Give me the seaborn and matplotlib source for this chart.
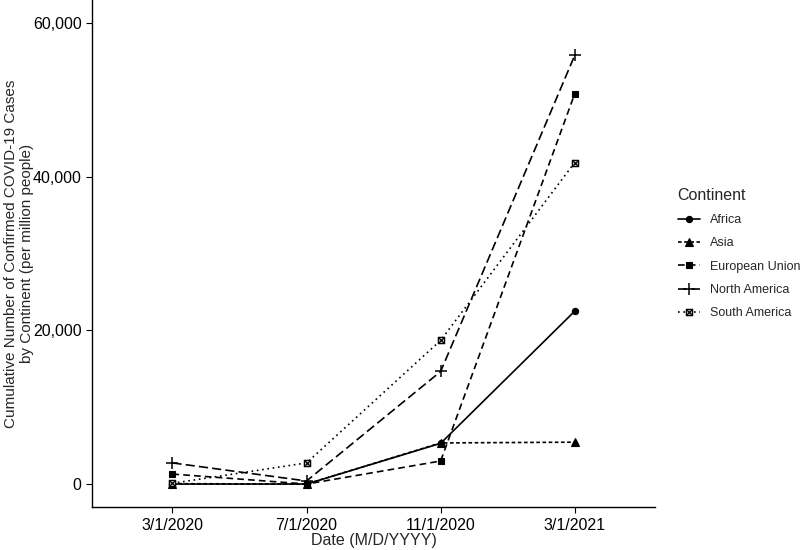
import matplotlib
matplotlib.use("Agg")
import matplotlib.pyplot as plt
import seaborn as sns
import pandas as pd
from matplotlib.path import Path
from matplotlib.lines import Line2D
from matplotlib.ticker import FuncFormatter

dates = ["3/1/2020", "7/1/2020", "11/1/2020", "3/1/2021"]
continents = ["Africa", "Asia", "European Union", "North America", "South America"]
africa = [0, 0, 5300, 22500]
asia = [50, 0, 5350, 5450]
eu = [1300, 0, 3000, 50800]
north_america = [2750, 400, 14650, 55800]
south_america = [100, 2750, 18700, 41850]

series = [africa, asia, eu, north_america, south_america]
rows = []
for c, vals in zip(continents, series):
    for i, (d, v) in enumerate(zip(dates, vals)):
        rows.append({"Continent": c, "pos": i, "Date": d, "value": v})
df = pd.DataFrame(rows)

sns.set_theme(style="ticks")
plt.rcParams["font.family"] = ["Liberation Sans", "DejaVu Sans"]

sq_x = Path(
    [(-1, -1), (1, -1), (1, 1), (-1, 1), (-1, -1), (-1, -1), (1, 1), (-1, 1), (1, -1)],
    [Path.MOVETO, Path.LINETO, Path.LINETO, Path.LINETO, Path.CLOSEPOLY,
     Path.MOVETO, Path.LINETO, Path.MOVETO, Path.LINETO],
)

styles = {
    "Africa": dict(marker="o", ls="-", ms=4.5, mfc="black", mew=0.8),
    "Asia": dict(marker="^", ls=(0, (2.2, 1.5)), ms=5.5, mfc="black", mew=0.8),
    "European Union": dict(marker="s", ls=(0, (4, 2.5)), ms=5, mfc="black", mew=0.8),
    "North America": dict(marker="+", ls=(0, (5.5, 2.5)), ms=8.5, mfc="black", mew=1.1),
    "South America": dict(marker=sq_x, ls=(0, (1, 2.2)), ms=4.5, mfc="#bbbbbb", mew=0.9),
}

fig = plt.figure(figsize=(8, 5.5), dpi=100)
ax = fig.add_axes([0.115, 0.078, 0.704, 0.922])

handles = []
for c in continents:
    st = styles[c]
    sub = df[df["Continent"] == c]
    sns.lineplot(data=sub, x="pos", y="value", color="black", linewidth=1.2,
                 marker=st["marker"], linestyle=st["ls"], markersize=st["ms"],
                 markerfacecolor=st["mfc"], markeredgecolor="black",
                 markeredgewidth=st["mew"], ax=ax, legend=False)
    handles.append(Line2D([], [], color="black", linewidth=1.2, marker=st["marker"],
                          linestyle=st["ls"], markersize=st["ms"],
                          markerfacecolor=st["mfc"], markeredgecolor="black",
                          markeredgewidth=st["mew"], label=c))

ax.set_xlim(-0.6, 3.6)
ax.set_ylim(-3000, 63000)
ax.set_xticks(range(len(dates)))
ax.set_xticklabels(dates)
ax.set_yticks([0, 20000, 40000, 60000])
ax.yaxis.set_major_formatter(FuncFormatter(lambda v, p: f"{int(v):,}"))
ax.set_xlabel("Date (M/D/YYYY)", fontsize=11.5, labelpad=0)
ax.set_ylabel("Cumulative Number of Confirmed COVID-19 Cases\nby Continent (per million people)",
              fontsize=11)
ax.yaxis.set_label_coords(-0.103, 0.5)
ax.tick_params(axis="both", labelsize=11.5, colors="black", length=4, width=0.8, direction="out")
for s in ["top", "right"]:
    ax.spines[s].set_visible(False)
for s in ["left", "bottom"]:
    ax.spines[s].set_color("black")
    ax.spines[s].set_linewidth(1.0)
ax.grid(False)

ax.legend(handles=handles, title="Continent", loc="center left", bbox_to_anchor=(1.02, 0.5),
          frameon=False, fontsize=9, title_fontsize=11.5, handlelength=1.8,
          labelspacing=0.9, alignment="left")

fig.savefig("out.png", dpi=100)
